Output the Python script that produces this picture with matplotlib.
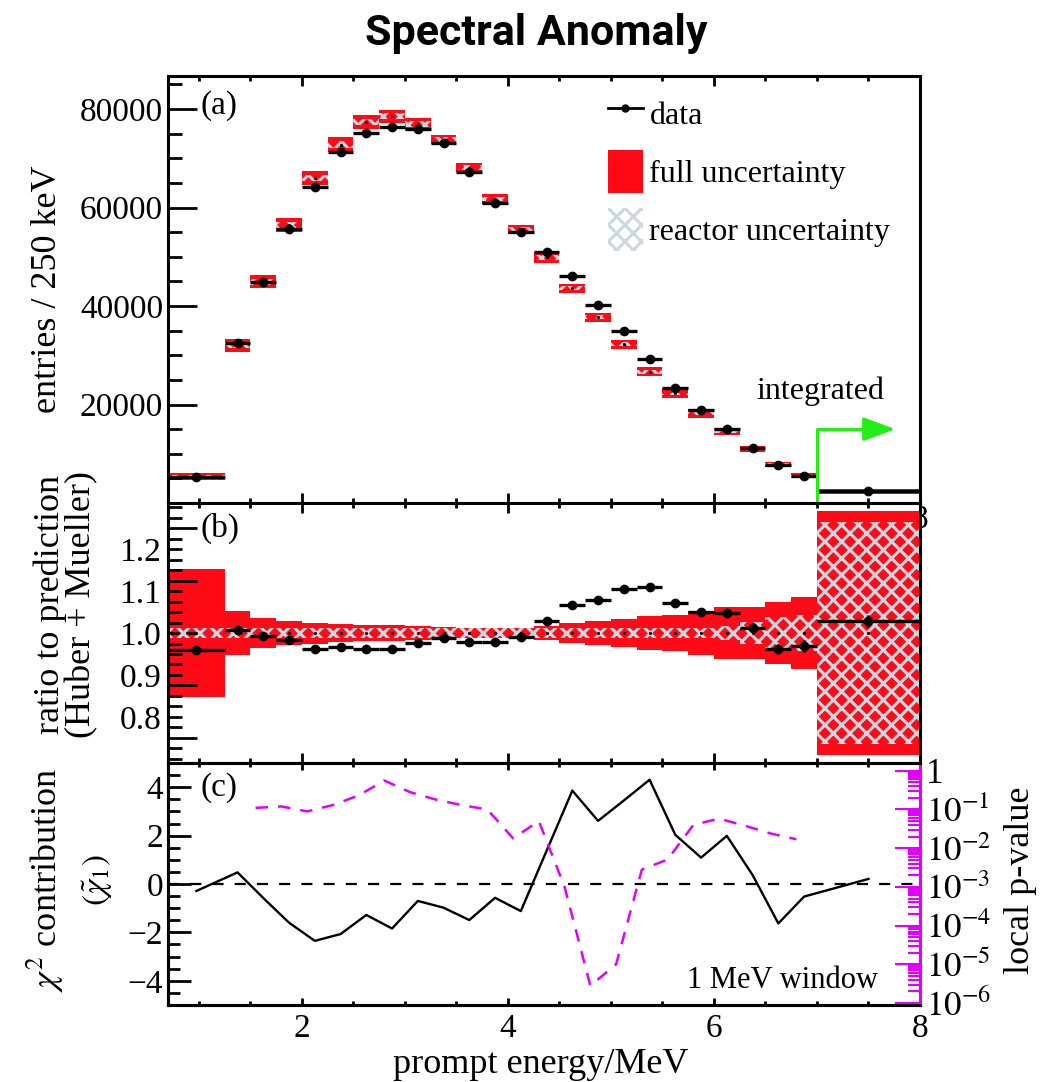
import numpy as np
import matplotlib
matplotlib.use('Agg')
import matplotlib.pyplot as plt
from matplotlib.lines import Line2D
from matplotlib.patches import Patch
from matplotlib.ticker import MultipleLocator, FixedLocator, LogLocator, FuncFormatter, NullFormatter

plt.rcParams['font.family'] = ['Liberation Serif', 'DejaVu Serif']
plt.rcParams['mathtext.fontset'] = 'stix'
plt.rcParams['hatch.linewidth'] = 2.2
plt.rcParams['axes.unicode_minus'] = True

# ---------------- data ----------------
bin_edges = [0.7, 1.25, 1.5, 1.75, 2.0, 2.25, 2.5, 2.75, 3.0, 3.25, 3.5, 3.75, 4.0,
             4.25, 4.5, 4.75, 5.0, 5.25, 5.5, 5.75, 6.0, 6.25, 6.5, 6.75, 7.0, 8.0]

data_counts = [5300, 32400, 44800, 55700, 64200, 71300, 75200, 76400, 76000, 73200,
               67300, 61000, 55100, 50900, 46100, 40200, 34900, 29200, 23300, 18800,
               15000, 11100, 7800, 5400, 2400]
pred_counts = [5350, 32000, 44900, 56400, 66000, 72800, 77400, 78500, 77000, 73800,
               68100, 61700, 55500, 49900, 43600, 37700, 32200, 26700, 22300, 18200,
               14500, 11000, 7900, 5500, 2400]
pred_full_err = [700, 1390, 1320, 1390, 1520, 1620, 1450, 1350, 1180, 910,
                 910, 1010, 945, 1080, 910, 945, 910, 910, 1050, 845,
                 675, 610, 510, 510, 510]
pred_reactor_err = [250, 600, 600, 650, 700, 700, 650, 600, 550, 450,
                    450, 450, 450, 450, 400, 400, 400, 400, 400, 350,
                    300, 250, 200, 200, 200]

ratio = [0.960, 1.007, 0.993, 0.983, 0.962, 0.967, 0.961, 0.962, 0.977, 0.989,
         0.979, 0.979, 0.990, 1.029, 1.068, 1.079, 1.106, 1.110, 1.071, 1.051,
         1.048, 1.011, 0.962, 0.969, 1.029]
ratio_err = [0.004, 0.004, 0.004, 0.004, 0.004, 0.004, 0.004, 0.004, 0.004, 0.004,
             0.004, 0.004, 0.004, 0.004, 0.004, 0.004, 0.005, 0.005, 0.006, 0.007,
             0.010, 0.012, 0.012, 0.015, 0.014]
full_unc = [0.152, 0.052, 0.036, 0.029, 0.025, 0.022, 0.020, 0.018, 0.016, 0.014,
            0.013, 0.013, 0.013, 0.016, 0.024, 0.028, 0.034, 0.040, 0.044, 0.052,
            0.063, 0.063, 0.075, 0.085, 0.290]
reactor_unc = [0.012, 0.012, 0.012, 0.012, 0.012, 0.012, 0.012, 0.012, 0.012, 0.012,
               0.012, 0.012, 0.012, 0.012, 0.012, 0.012, 0.012, 0.012, 0.012, 0.012,
               0.016, 0.026, 0.038, 0.042, 0.264]

chi_contribution = [-0.29, 0.48, -0.58, -1.60, -2.35, -2.07, -1.28, -1.84, -0.70, -0.98,
                    -1.49, -0.57, -1.12, 1.37, 3.86, 2.61, 3.45, 4.31, 2.03, 1.09,
                    1.99, 0.37, -1.63, -0.52, 0.21]

window_centers = [1.55, 1.80, 2.05, 2.30, 2.55, 2.80, 3.05, 3.30, 3.55, 3.80, 4.05,
                  4.30, 4.55, 4.80, 5.05, 5.30, 5.55, 5.80, 6.05, 6.30, 6.55, 6.80]
local_pvalue = [1.1e-1, 1.2e-1, 8.9e-2, 1.3e-1, 2.3e-1, 5.6e-1, 2.8e-1, 1.8e-1, 1.3e-1,
                1.0e-1, 1.8e-2, 5.0e-2, 1.0e-3, 2.8e-6, 1.0e-5, 2.8e-3, 5.1e-3, 4.0e-2,
                5.8e-2, 3.8e-2, 2.4e-2, 1.7e-2]

# ---------------- derived ----------------
edges = np.array(bin_edges)
lefts = edges[:-1]
widths = np.diff(edges)
centers = lefts + widths / 2
half_w = widths / 2
data_counts = np.array(data_counts, float)
pred_counts = np.array(pred_counts, float)
pred_full_err = np.array(pred_full_err, float)
pred_reactor_err = np.array(pred_reactor_err, float)
ratio = np.array(ratio)
full_unc = np.array(full_unc)
reactor_unc = np.array(reactor_unc)

RED = '#fe0b17'
HATCH = '#c9d8e1'
GREEN = '#22ee11'
MAG = '#e100ff'
TICK_FS = 24

fig = plt.figure(figsize=(10.56, 10.82), dpi=100)
L, W = 0.1591, 0.7121
ax_a = fig.add_axes([L, 0.5351, W, 0.3946])
ax_b = fig.add_axes([L, 0.2948, W, 0.2403])
ax_c = fig.add_axes([L, 0.0712, W, 0.2236])

for ax in (ax_a, ax_b, ax_c):
    for s in ax.spines.values():
        s.set_linewidth(2.2)
    ax.set_xlim(0.7, 8.0)
    ax.xaxis.set_major_locator(MultipleLocator(2))
    ax.xaxis.set_minor_locator(MultipleLocator(0.5))
    ax.tick_params(axis='x', which='both', direction='in', top=True, bottom=True,
                   labelsize=TICK_FS, width=2)
    ax.tick_params(axis='x', which='major', length=7)
    ax.tick_params(axis='x', which='minor', length=3.6)
    ax.tick_params(axis='y', which='both', direction='in', right=False, labelsize=TICK_FS, width=2)

# ---------------- panel (a) ----------------
ax_a.bar(lefts, 2 * pred_full_err, bottom=pred_counts - pred_full_err, width=widths,
         align='edge', color=RED, lw=0, zorder=1)
ax_a.bar(lefts, 2 * pred_reactor_err, bottom=pred_counts - pred_reactor_err, width=widths,
         align='edge', facecolor='none', edgecolor=HATCH, hatch='xx', lw=0, zorder=2)
ax_a.plot(centers, pred_counts, ls='none', marker='.', ms=2.5, color='k', zorder=3)
ax_a.errorbar(centers, data_counts, xerr=half_w, fmt='o', color='k', ms=6,
              elinewidth=2.4, capsize=0, zorder=4)
ax_a.set_ylim(0, 86700)
ax_a.yaxis.set_major_locator(FixedLocator([20000, 40000, 60000, 80000]))
ax_a.yaxis.set_minor_locator(MultipleLocator(5000))
ax_a.tick_params(axis='y', which='major', length=21)
ax_a.tick_params(axis='y', which='minor', length=10)
ax_a.tick_params(axis='x', which='both', pad=1)
ax_a.set_ylabel('entries / 250 keV', fontsize=26, va='center')
ax_a.yaxis.set_label_coords(-0.1596, 0.5)
ax_a.text(0.0426, 0.930, '(a)', transform=ax_a.transAxes, fontsize=TICK_FS,
          ha='left', va='center')

# integrated arrow
ax_a.plot([7.0, 7.0, 7.55], [0, 15000, 15000], color=GREEN, lw=2.2, zorder=5,
          solid_capstyle='butt')
ax_a.annotate('', xy=(7.76, 15000), xytext=(7.5, 15000),
              arrowprops=dict(arrowstyle='-|>,head_length=1.4,head_width=0.52',
                              mutation_scale=14, color=GREEN, lw=2.2,
                              shrinkA=0, shrinkB=0), zorder=5)
ax_a.text(7.03, 22700, 'integrated', fontsize=23, ha='center', va='center')

h_data = Line2D([], [], color='k', lw=2, marker='o', ms=5)
h_full = Patch(facecolor=RED, edgecolor='none')
h_reac = Patch(facecolor='white', edgecolor=HATCH, hatch='xx', lw=0)
ax_a.legend([h_data, h_full, h_reac], ['data', 'full uncertainty', 'reactor uncertainty'],
            loc='upper left', bbox_to_anchor=(0.585, 0.962), frameon=False, fontsize=23,
            handlelength=1.1, handleheight=1.69, handletextpad=0.2, labelspacing=0.47,
            borderpad=0, borderaxespad=0)

# ---------------- panel (b) ----------------
ax_b.bar(lefts, 2 * full_unc, bottom=1 - full_unc, width=widths, align='edge',
         color=RED, lw=0, zorder=1)
ax_b.bar(lefts, 2 * reactor_unc, bottom=1 - reactor_unc, width=widths, align='edge',
         facecolor='none', edgecolor=HATCH, hatch='xx', lw=0, zorder=2)
ax_b.plot(centers, np.ones_like(centers), ls='none', marker='.', ms=2.5, color='k', zorder=3)
ax_b.errorbar(centers, ratio, xerr=half_w, yerr=ratio_err, fmt='o', color='k', ms=6,
              elinewidth=2.4, capsize=0, zorder=4)
ax_b.set_ylim(0.69, 1.31)
ax_b.yaxis.set_major_locator(FixedLocator([0.75, 0.875, 1.0, 1.125, 1.25]))
ax_b.yaxis.set_major_formatter(NullFormatter())
ax_b.yaxis.set_minor_locator(MultipleLocator(0.025))
ax_b.tick_params(axis='y', which='major', length=21)
ax_b.tick_params(axis='y', which='minor', length=10)
ax_b.tick_params(axis='x', which='both', labelbottom=False)
sec_b = ax_b.secondary_yaxis('left')
sec_b.set_yticks([0.8, 0.9, 1.0, 1.1, 1.2], labels=['0.8', '0.9', '1.0', '1.1', '1.2'])
sec_b.tick_params(axis='y', length=0, labelsize=TICK_FS, pad=5)
sec_b.spines['left'].set_visible(False)
ax_b.set_ylabel('ratio to prediction\n(Huber + Mueller)', fontsize=26, va='center',
                linespacing=0.9)
ax_b.yaxis.set_label_coords(-0.1356, 0.608)
ax_b.text(0.0426, 0.904, '(b)', transform=ax_b.transAxes, fontsize=TICK_FS,
          ha='left', va='center')

# ---------------- panel (c) ----------------
ax_c.axhline(0, color='k', lw=1.6, ls=(0, (5, 5)), zorder=1)
ax_c.plot(centers, chi_contribution, color='k', lw=1.7, zorder=3)
ax_c.set_ylim(-5, 5)
ax_c.yaxis.set_major_locator(MultipleLocator(2))
ax_c.yaxis.set_minor_locator(MultipleLocator(0.5))
ax_c.tick_params(axis='y', which='major', length=16.5)
ax_c.tick_params(axis='y', which='minor', length=8.6)
ax_c.tick_params(axis='x', which='both', pad=6)
ax_c.tick_params(axis='x', which='major', length=5)
ax_c.tick_params(axis='x', which='minor', length=3)
ax_c.set_ylabel(r'$\chi^2$ contribution', fontsize=26, va='center')
ax_c.yaxis.set_label_coords(-0.1636, 0.516)
ax_c.text(-0.0944, 0.517, r'$(\tilde{\chi}_1)$', transform=ax_c.transAxes, fontsize=24,
          rotation=90, ha='center', va='center')
ax_c.set_xlabel('prompt energy/MeV', fontsize=26, va='baseline')
ax_c.xaxis.set_label_coords(0.495, -0.28)
ax_c.text(0.0426, 0.897, '(c)', transform=ax_c.transAxes, fontsize=TICK_FS,
          ha='left', va='center')
ax_c.text(0.944, 0.07, '1 MeV window', transform=ax_c.transAxes, fontsize=22,
          ha='right', va='baseline')

tw = ax_c.twinx()
tw.plot(window_centers, local_pvalue, color=MAG, lw=1.8, ls=(0, (5, 4)), zorder=2)
tw.set_yscale('log')
tw.set_ylim(10 ** -6.05, 10 ** 0.2)
tw.yaxis.set_major_locator(LogLocator(base=10, numticks=20))
tw.yaxis.set_minor_locator(LogLocator(base=10, subs=np.arange(2, 10), numticks=20))
tw.yaxis.set_minor_formatter(NullFormatter())


def p_fmt(v, pos):
    e = int(round(np.log10(v)))
    return '1' if e == 0 else r'$10^{%d}$' % e


tw.yaxis.set_major_formatter(FuncFormatter(p_fmt))
tw.tick_params(axis='y', which='both', direction='in', color=MAG, width=1.5,
               labelcolor='k', labelsize=25, pad=4)
tw.tick_params(axis='y', which='major', length=18)
tw.tick_params(axis='y', which='minor', length=9)
for s in tw.spines.values():
    s.set_linewidth(2.2)
tw.spines['right'].set_color(MAG)
tw.set_ylabel('local p-value', fontsize=26, rotation=90, va='center')
tw.yaxis.set_label_coords(1.133, 0.516)

fig.text(0.5076, 1 - 45 / 1082, 'Spectral Anomaly', ha='center', va='baseline',
         family='Roboto', weight='bold', fontsize=31)

fig.savefig('out.png', dpi=100)
